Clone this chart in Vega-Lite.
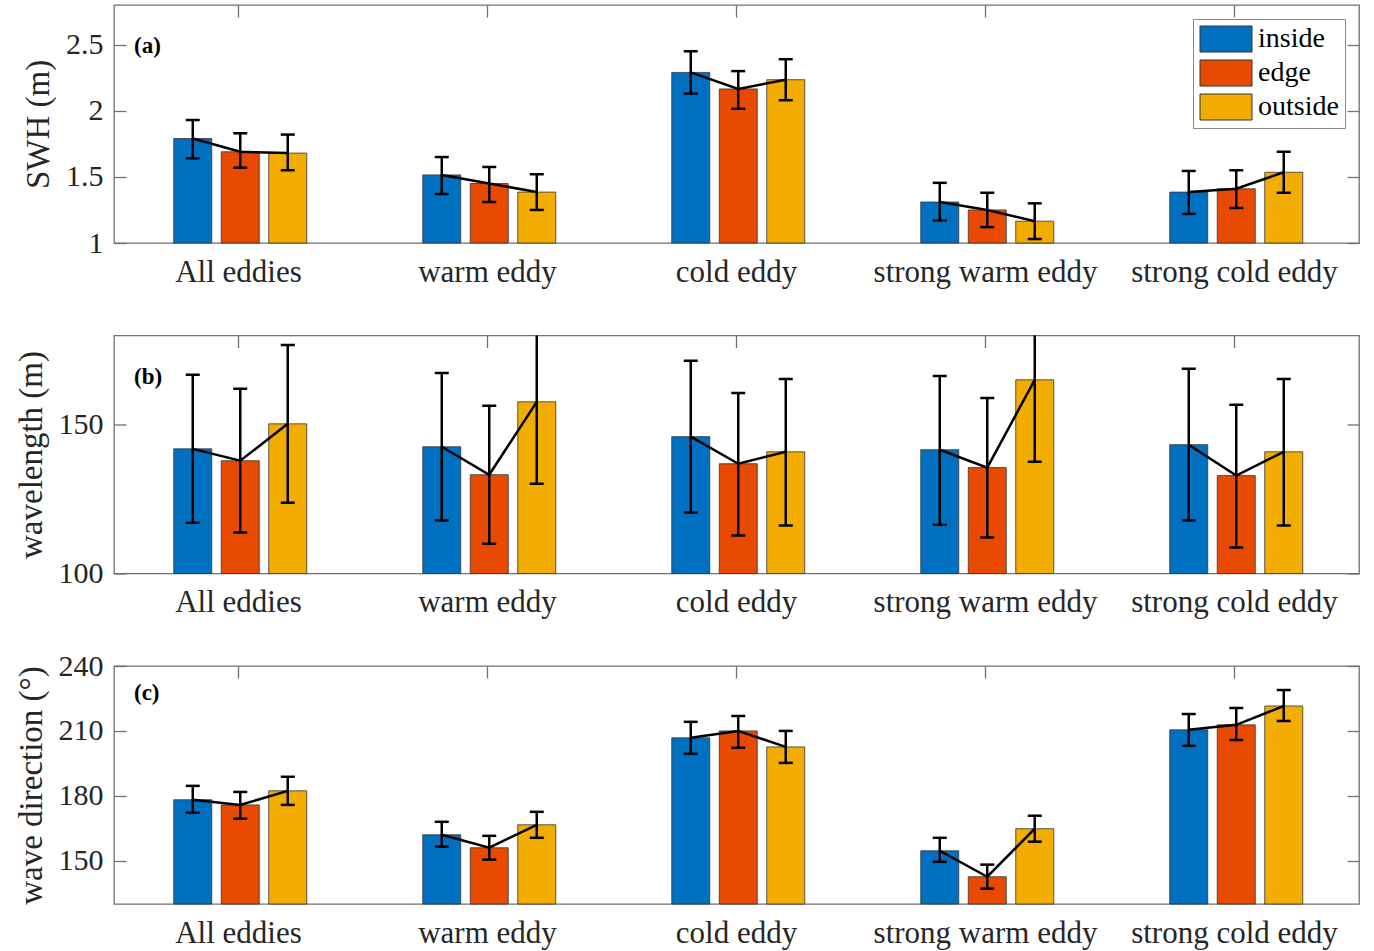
{
  "$schema": "https://vega.github.io/schema/vega-lite/v6.json",
  "padding": {"left": 14, "top": 3, "right": 5, "bottom": 2},
  "background": "white",
  "bounds": "flush",
  "spacing": 92.5,
  "config": {
    "font": "Liberation Serif",
    "view": {"stroke": "#707070", "strokeWidth": 1.3},
    "axis": {
      "labelFont": "Liberation Serif",
      "titleFont": "Liberation Serif",
      "labelColor": "#262626",
      "titleColor": "#262626",
      "tickColor": "#707070",
      "tickWidth": 1.3,
      "domain": false,
      "grid": false,
      "labelLimit": 0
    },
    "title": {"anchor": "start", "frame": "group", "offset": -54, "dx": 20, "baseline": "alphabetic", "fontSize": 23, "fontWeight": "bold", "font": "Liberation Serif", "color": "#000"}
  },
  "datasets": {
    "swh": [
      {"g": "All eddies", "loc": "inside", "v": 1.79, "lo": 1.64, "hi": 1.93},
      {"g": "All eddies", "loc": "edge", "v": 1.69, "lo": 1.57, "hi": 1.83},
      {"g": "All eddies", "loc": "outside", "v": 1.68, "lo": 1.55, "hi": 1.82},
      {"g": "warm eddy", "loc": "inside", "v": 1.515, "lo": 1.37, "hi": 1.65},
      {"g": "warm eddy", "loc": "edge", "v": 1.45, "lo": 1.31, "hi": 1.575},
      {"g": "warm eddy", "loc": "outside", "v": 1.385, "lo": 1.25, "hi": 1.52},
      {"g": "cold eddy", "loc": "inside", "v": 2.29, "lo": 2.13, "hi": 2.45},
      {"g": "cold eddy", "loc": "edge", "v": 2.165, "lo": 2.015, "hi": 2.3},
      {"g": "cold eddy", "loc": "outside", "v": 2.235, "lo": 2.08, "hi": 2.39},
      {"g": "strong warm eddy", "loc": "inside", "v": 1.31, "lo": 1.17, "hi": 1.455},
      {"g": "strong warm eddy", "loc": "edge", "v": 1.25, "lo": 1.12, "hi": 1.38},
      {"g": "strong warm eddy", "loc": "outside", "v": 1.165, "lo": 1.03, "hi": 1.3},
      {"g": "strong cold eddy", "loc": "inside", "v": 1.385, "lo": 1.22, "hi": 1.545},
      {"g": "strong cold eddy", "loc": "edge", "v": 1.41, "lo": 1.265, "hi": 1.55},
      {"g": "strong cold eddy", "loc": "outside", "v": 1.535, "lo": 1.38, "hi": 1.69}
    ],
    "wl": [
      {"g": "All eddies", "loc": "inside", "v": 141.9, "lo": 117.1, "hi": 166.8},
      {"g": "All eddies", "loc": "edge", "v": 137.9, "lo": 113.8, "hi": 162.1},
      {"g": "All eddies", "loc": "outside", "v": 150.3, "lo": 123.8, "hi": 176.8},
      {"g": "warm eddy", "loc": "inside", "v": 142.6, "lo": 117.8, "hi": 167.4},
      {"g": "warm eddy", "loc": "edge", "v": 133.2, "lo": 110.0, "hi": 156.4},
      {"g": "warm eddy", "loc": "outside", "v": 157.7, "lo": 130.2, "hi": 185.2},
      {"g": "cold eddy", "loc": "inside", "v": 146.0, "lo": 120.5, "hi": 171.5},
      {"g": "cold eddy", "loc": "edge", "v": 136.9, "lo": 112.8, "hi": 160.7},
      {"g": "cold eddy", "loc": "outside", "v": 140.9, "lo": 116.1, "hi": 165.4},
      {"g": "strong warm eddy", "loc": "inside", "v": 141.6, "lo": 116.4, "hi": 166.4},
      {"g": "strong warm eddy", "loc": "edge", "v": 135.6, "lo": 112.1, "hi": 159.0},
      {"g": "strong warm eddy", "loc": "outside", "v": 165.1, "lo": 137.6, "hi": 192.6},
      {"g": "strong cold eddy", "loc": "inside", "v": 143.3, "lo": 117.8, "hi": 168.8},
      {"g": "strong cold eddy", "loc": "edge", "v": 132.9, "lo": 108.7, "hi": 156.7},
      {"g": "strong cold eddy", "loc": "outside", "v": 140.9, "lo": 116.1, "hi": 165.4}
    ],
    "wd": [
      {"g": "All eddies", "loc": "inside", "v": 178.2, "lo": 172.2, "hi": 184.6},
      {"g": "All eddies", "loc": "edge", "v": 175.8, "lo": 169.4, "hi": 181.8},
      {"g": "All eddies", "loc": "outside", "v": 182.3, "lo": 175.8, "hi": 188.8},
      {"g": "warm eddy", "loc": "inside", "v": 162.0, "lo": 156.5, "hi": 168.0},
      {"g": "warm eddy", "loc": "edge", "v": 156.0, "lo": 150.5, "hi": 161.5},
      {"g": "warm eddy", "loc": "outside", "v": 166.6, "lo": 160.6, "hi": 172.6},
      {"g": "cold eddy", "loc": "inside", "v": 206.8, "lo": 199.4, "hi": 214.2},
      {"g": "cold eddy", "loc": "edge", "v": 210.0, "lo": 202.2, "hi": 216.9},
      {"g": "cold eddy", "loc": "outside", "v": 202.6, "lo": 195.2, "hi": 210.0},
      {"g": "strong warm eddy", "loc": "inside", "v": 154.6, "lo": 149.5, "hi": 160.6},
      {"g": "strong warm eddy", "loc": "edge", "v": 142.6, "lo": 137.1, "hi": 148.2},
      {"g": "strong warm eddy", "loc": "outside", "v": 164.8, "lo": 158.8, "hi": 170.8},
      {"g": "strong cold eddy", "loc": "inside", "v": 210.5, "lo": 203.1, "hi": 217.8},
      {"g": "strong cold eddy", "loc": "edge", "v": 212.8, "lo": 205.8, "hi": 220.6},
      {"g": "strong cold eddy", "loc": "outside", "v": 221.5, "lo": 214.6, "hi": 228.9}
    ]
  },
  "resolve": {"scale": {"color": "independent"}, "legend": {"color": "independent"}},
  "vconcat": [
    {
      "width": 1245,
      "height": 238,
      "data": {"name": "swh"},
      "title": {"text": "(a)"},
      "resolve": {"axis": {"x": "independent", "y": "independent"}},
      "layer": [
        {
          "mark": {"type": "bar", "stroke": "#333333", "strokeWidth": 0.8},
          "encoding": {
            "x": {"field": "g", "type": "nominal", "sort": null, "scale": {"paddingInner": 0, "paddingOuter": -0.035},
                  "axis": {"title": null, "labelAngle": 0, "labelFontSize": 31, "labelPadding": 14, "ticks": false}},
            "xOffset": {"field": "loc", "type": "nominal", "sort": ["inside", "edge", "outside"], "scale": {"range": [59.75, 192.75], "paddingInner": 0.2, "paddingOuter": 0}},
            "y": {"field": "v", "type": "quantitative", "scale": {"domain": [1, 2.8], "nice": false, "zero": false},
                  "axis": {"title": "SWH (m)", "values": [1, 1.5, 2, 2.5], "format": "~g", "tickSize": -12, "labelPadding": 23, "labelFontSize": 30, "titleFontSize": 33, "titleFontWeight": "normal", "titlePadding": 10}},
            "y2": {"datum": 1},
            "color": {"field": "loc", "type": "nominal",
                      "scale": {"domain": ["inside", "edge", "outside"], "range": ["#0070C0", "#E84A02", "#F3AD00"]},
                      "legend": {"title": null, "orient": "none", "legendX": 1079, "legendY": 14, "symbolType": "M-2,-1H2V1H-2Z", "symbolSize": 676, "symbolOffset": 13, "symbolStrokeColor": "#333333", "symbolStrokeWidth": 1, "symbolOpacity": 1, "labelFont": "Liberation Serif", "labelFontSize": 28, "labelColor": "#000", "labelOffset": 18, "rowPadding": 4, "padding": 6, "strokeColor": "#888888", "fillColor": "white", "labelLimit": 0}}
          }
        },
        {
          "mark": {"type": "line", "color": "black", "strokeWidth": 2.5},
          "encoding": {
            "x": {"field": "g", "type": "nominal", "sort": null, "axis": {"orient": "top", "labels": false, "title": null, "tickSize": -12}},
            "xOffset": {"field": "loc", "type": "nominal", "sort": ["inside", "edge", "outside"]},
            "y": {"field": "v", "type": "quantitative", "scale": {"domain": [1, 2.8], "nice": false, "zero": false},
                  "axis": {"orient": "right", "labels": false, "title": null, "values": [1, 1.5, 2, 2.5], "tickSize": -12}},
            "detail": {"field": "g"},
            "order": {"value": null}
          }
        },
        {
          "mark": {"type": "rule", "color": "black", "strokeWidth": 2.5, "clip": true},
          "encoding": {
            "x": {"field": "g", "type": "nominal", "sort": null, "axis": null},
            "xOffset": {"field": "loc", "type": "nominal", "sort": ["inside", "edge", "outside"]},
            "y": {"field": "lo", "type": "quantitative", "axis": null},
            "y2": {"field": "hi"}
          }
        },
        {
          "mark": {"type": "tick", "color": "black", "thickness": 2.5, "size": 14, "clip": true, "opacity": 1},
          "encoding": {
            "x": {"field": "g", "type": "nominal", "sort": null, "axis": null},
            "xOffset": {"field": "loc", "type": "nominal", "sort": ["inside", "edge", "outside"]},
            "y": {"field": "lo", "type": "quantitative", "axis": null}
          }
        },
        {
          "mark": {"type": "tick", "color": "black", "thickness": 2.5, "size": 14, "clip": true, "opacity": 1},
          "encoding": {
            "x": {"field": "g", "type": "nominal", "sort": null, "axis": null},
            "xOffset": {"field": "loc", "type": "nominal", "sort": ["inside", "edge", "outside"]},
            "y": {"field": "hi", "type": "quantitative", "axis": null}
          }
        }
      ]
    },
    {
      "width": 1245,
      "height": 238,
      "data": {"name": "wl"},
      "title": {"text": "(b)"},
      "resolve": {"axis": {"x": "independent", "y": "independent"}},
      "layer": [
        {
          "mark": {"type": "bar", "stroke": "#333333", "strokeWidth": 0.8},
          "encoding": {
            "x": {"field": "g", "type": "nominal", "sort": null, "scale": {"paddingInner": 0, "paddingOuter": -0.035},
                  "axis": {"title": null, "labelAngle": 0, "labelFontSize": 31, "labelPadding": 14, "ticks": false}},
            "xOffset": {"field": "loc", "type": "nominal", "sort": ["inside", "edge", "outside"], "scale": {"range": [59.75, 192.75], "paddingInner": 0.2, "paddingOuter": 0}},
            "y": {"field": "v", "type": "quantitative", "scale": {"domain": [100, 180], "nice": false, "zero": false},
                  "axis": {"title": "wavelength (m)", "values": [100, 150], "format": "d", "tickSize": -12, "labelPadding": 23, "labelFontSize": 30, "titleFontSize": 33, "titleFontWeight": "normal", "titlePadding": 10}},
            "y2": {"datum": 100},
            "color": {"field": "loc", "type": "nominal",
                      "scale": {"domain": ["inside", "edge", "outside"], "range": ["#0070C0", "#E84A02", "#F3AD00"]},
                      "legend": null}
          }
        },
        {
          "mark": {"type": "line", "color": "black", "strokeWidth": 2.5},
          "encoding": {
            "x": {"field": "g", "type": "nominal", "sort": null, "axis": {"orient": "top", "labels": false, "title": null, "tickSize": -12}},
            "xOffset": {"field": "loc", "type": "nominal", "sort": ["inside", "edge", "outside"]},
            "y": {"field": "v", "type": "quantitative", "scale": {"domain": [100, 180], "nice": false, "zero": false},
                  "axis": {"orient": "right", "labels": false, "title": null, "values": [100, 150], "tickSize": -12}},
            "detail": {"field": "g"},
            "order": {"value": null}
          }
        },
        {
          "mark": {"type": "rule", "color": "black", "strokeWidth": 2.5, "clip": true},
          "encoding": {
            "x": {"field": "g", "type": "nominal", "sort": null, "axis": null},
            "xOffset": {"field": "loc", "type": "nominal", "sort": ["inside", "edge", "outside"]},
            "y": {"field": "lo", "type": "quantitative", "axis": null},
            "y2": {"field": "hi"}
          }
        },
        {
          "mark": {"type": "tick", "color": "black", "thickness": 2.5, "size": 14, "clip": true, "opacity": 1},
          "encoding": {
            "x": {"field": "g", "type": "nominal", "sort": null, "axis": null},
            "xOffset": {"field": "loc", "type": "nominal", "sort": ["inside", "edge", "outside"]},
            "y": {"field": "lo", "type": "quantitative", "axis": null}
          }
        },
        {
          "mark": {"type": "tick", "color": "black", "thickness": 2.5, "size": 14, "clip": true, "opacity": 1},
          "encoding": {
            "x": {"field": "g", "type": "nominal", "sort": null, "axis": null},
            "xOffset": {"field": "loc", "type": "nominal", "sort": ["inside", "edge", "outside"]},
            "y": {"field": "hi", "type": "quantitative", "axis": null}
          }
        }
      ]
    },
    {
      "width": 1245,
      "height": 238,
      "data": {"name": "wd"},
      "title": {"text": "(c)"},
      "resolve": {"axis": {"x": "independent", "y": "independent"}},
      "layer": [
        {
          "mark": {"type": "bar", "stroke": "#333333", "strokeWidth": 0.8},
          "encoding": {
            "x": {"field": "g", "type": "nominal", "sort": null, "scale": {"paddingInner": 0, "paddingOuter": -0.035},
                  "axis": {"title": null, "labelAngle": 0, "labelFontSize": 31, "labelPadding": 14, "ticks": false}},
            "xOffset": {"field": "loc", "type": "nominal", "sort": ["inside", "edge", "outside"], "scale": {"range": [59.75, 192.75], "paddingInner": 0.2, "paddingOuter": 0}},
            "y": {"field": "v", "type": "quantitative", "scale": {"domain": [130, 240], "nice": false, "zero": false},
                  "axis": {"title": "wave direction (°)", "values": [150, 180, 210, 240], "format": "d", "tickSize": -12, "labelPadding": 23, "labelFontSize": 30, "titleFontSize": 33, "titleFontWeight": "normal", "titlePadding": 10}},
            "y2": {"datum": 130},
            "color": {"field": "loc", "type": "nominal",
                      "scale": {"domain": ["inside", "edge", "outside"], "range": ["#0070C0", "#E84A02", "#F3AD00"]},
                      "legend": null}
          }
        },
        {
          "mark": {"type": "line", "color": "black", "strokeWidth": 2.5},
          "encoding": {
            "x": {"field": "g", "type": "nominal", "sort": null, "axis": {"orient": "top", "labels": false, "title": null, "tickSize": -12}},
            "xOffset": {"field": "loc", "type": "nominal", "sort": ["inside", "edge", "outside"]},
            "y": {"field": "v", "type": "quantitative", "scale": {"domain": [130, 240], "nice": false, "zero": false},
                  "axis": {"orient": "right", "labels": false, "title": null, "values": [150, 180, 210, 240], "tickSize": -12}},
            "detail": {"field": "g"},
            "order": {"value": null}
          }
        },
        {
          "mark": {"type": "rule", "color": "black", "strokeWidth": 2.5, "clip": true},
          "encoding": {
            "x": {"field": "g", "type": "nominal", "sort": null, "axis": null},
            "xOffset": {"field": "loc", "type": "nominal", "sort": ["inside", "edge", "outside"]},
            "y": {"field": "lo", "type": "quantitative", "axis": null},
            "y2": {"field": "hi"}
          }
        },
        {
          "mark": {"type": "tick", "color": "black", "thickness": 2.5, "size": 14, "clip": true, "opacity": 1},
          "encoding": {
            "x": {"field": "g", "type": "nominal", "sort": null, "axis": null},
            "xOffset": {"field": "loc", "type": "nominal", "sort": ["inside", "edge", "outside"]},
            "y": {"field": "lo", "type": "quantitative", "axis": null}
          }
        },
        {
          "mark": {"type": "tick", "color": "black", "thickness": 2.5, "size": 14, "clip": true, "opacity": 1},
          "encoding": {
            "x": {"field": "g", "type": "nominal", "sort": null, "axis": null},
            "xOffset": {"field": "loc", "type": "nominal", "sort": ["inside", "edge", "outside"]},
            "y": {"field": "hi", "type": "quantitative", "axis": null}
          }
        }
      ]
    }
  ]
}
